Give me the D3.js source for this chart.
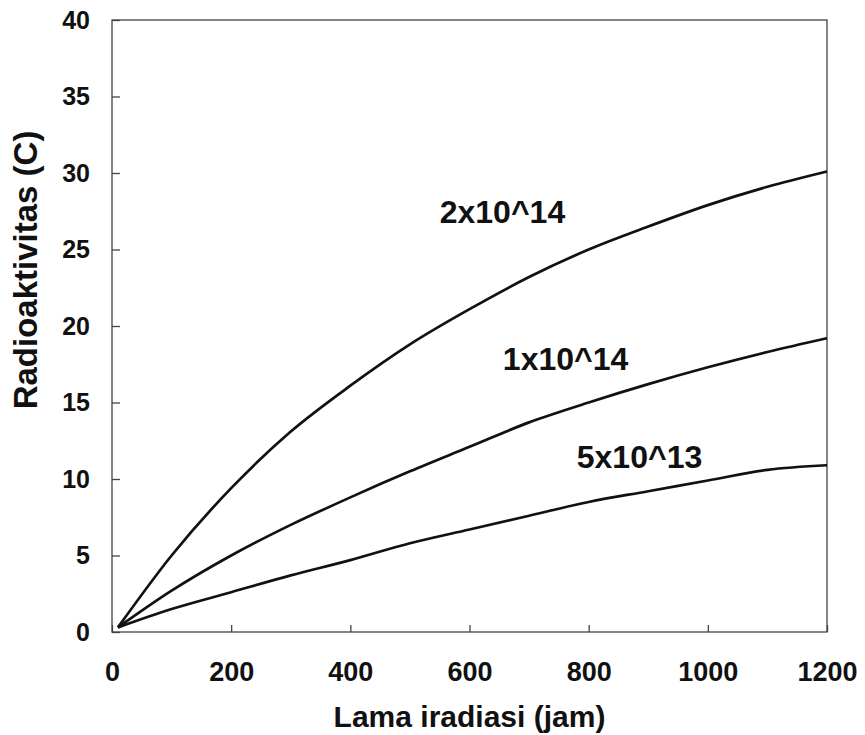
<!DOCTYPE html>
<html>
<head>
<meta charset="utf-8">
<script src="https://cdn.jsdelivr.net/npm/d3@7"></script>
<style>
  body { margin: 0; background: #fff; }
  svg text { font-family: "Liberation Sans", Arial, sans-serif; fill: #111; }
</style>
</head>
<body>
<svg id="chart" width="865" height="735"></svg>
<script>
'use strict';

// irradiation time (hours)
var hours = [10, 100, 200, 300, 400, 500, 600, 700, 800, 900, 1000, 1100, 1200];

// activity (Ci) for each neutron flux
var flux2e14 = [0.3, 5.0, 9.4, 13.1, 16.1, 18.8, 21.1, 23.2, 25.0, 26.5, 27.9, 29.1, 30.1];
var flux1e14 = [0.3, 2.7, 5.0, 7.0, 8.8, 10.5, 12.1, 13.7, 15.0, 16.2, 17.3, 18.3, 19.2];
var flux5e13 = [0.3, 1.5, 2.6, 3.7, 4.7, 5.8, 6.7, 7.6, 8.5, 9.2, 9.9, 10.6, 10.9];

var seriesNames = ['2x10^14', '1x10^14', '5x10^13'];
// where each curve name sits, in data units [hours, Ci]
var labelAt = [[550, 26.7], [656, 17.1], [780, 10.7]];

var xTicks = [0, 200, 400, 600, 800, 1000, 1200];
var yTicks = [0, 5, 10, 15, 20, 25, 30, 35, 40];

var plotLeft = 112, plotRight = 827, plotTop = 20, plotBottom = 632;

var svg = d3.select('#chart');

var x = d3.scaleLinear().domain([0, 1200]).range([plotLeft, plotRight]);
var y = d3.scaleLinear().domain([0, 40]).range([plotBottom, plotTop]);

// frame
svg.append('rect')
  .attr('x', plotLeft).attr('y', plotTop)
  .attr('width', plotRight - plotLeft).attr('height', plotBottom - plotTop)
  .attr('fill', 'none')
  .attr('stroke', '#444')
  .attr('stroke-width', 1.3);

// axes, ticks pointing inward
var xAxis = svg.append('g')
  .attr('transform', 'translate(0,' + plotBottom + ')')
  .call(d3.axisBottom(x).tickValues(xTicks).tickFormat(d3.format('d'))
    .tickSizeInner(-7).tickSizeOuter(0).tickPadding(30));

var yAxis = svg.append('g')
  .attr('transform', 'translate(' + plotLeft + ',0)')
  .call(d3.axisLeft(y).tickValues(yTicks).tickFormat(d3.format('d'))
    .tickSizeInner(-8).tickSizeOuter(0).tickPadding(22));

[xAxis, yAxis].forEach(function(g) {
  g.select('.domain').remove();
  g.selectAll('.tick line').attr('stroke', '#444').attr('stroke-width', 1.3);
  g.selectAll('.tick text')
    .attr('fill', '#111')
    .style('font-weight', 'bold');
});
xAxis.selectAll('.tick text').style('font-size', '27px');
yAxis.selectAll('.tick text').style('font-size', '25px');

// curves
var series = [flux2e14, flux1e14, flux5e13];
var line = d3.line()
  .x(function(d, i) { return x(hours[i]); })
  .y(function(d) { return y(d); })
  .curve(d3.curveMonotoneX);

svg.selectAll('path.curve')
  .data(series)
  .enter().append('path')
  .attr('class', 'curve')
  .attr('d', line)
  .attr('fill', 'none')
  .attr('stroke', '#111')
  .attr('stroke-width', 2.7)
  .attr('stroke-linejoin', 'round');

// curve names
svg.selectAll('text.flux')
  .data(seriesNames)
  .enter().append('text')
  .attr('class', 'flux')
  .attr('x', function(d, i) { return x(labelAt[i][0]); })
  .attr('y', function(d, i) { return y(labelAt[i][1]); })
  .style('font-size', '32px')
  .style('font-weight', 'bold')
  .text(function(d) { return d; });

// axis titles
svg.append('text')
  .attr('x', (plotLeft + plotRight) / 2)
  .attr('y', 727)
  .attr('text-anchor', 'middle')
  .style('font-size', '30px')
  .style('font-weight', 'bold')
  .text('Lama iradiasi (jam)');

svg.append('text')
  .attr('transform', 'translate(37,270) rotate(-90)')
  .attr('text-anchor', 'middle')
  .style('font-size', '33px')
  .style('font-weight', 'bold')
  .text('Radioaktivitas (C)');
</script>
</body>
</html>
